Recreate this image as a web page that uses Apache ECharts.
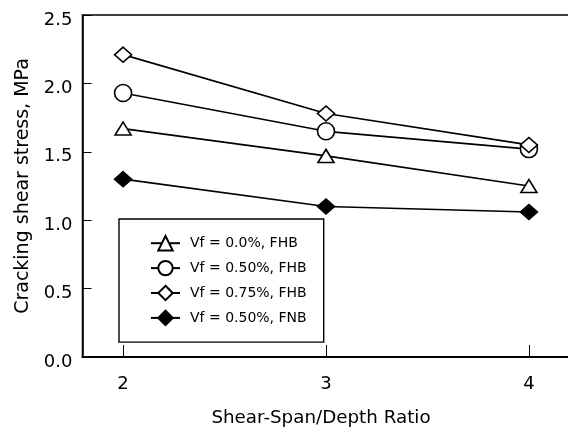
<!DOCTYPE html>
<html>
<head>
<meta charset="utf-8">
<script src="https://cdn.jsdelivr.net/npm/echarts@6/dist/echarts.min.js"></script>
<style>html,body{margin:0;padding:0;background:#fff}#c{width:568px;height:429px}</style>
</head>
<body>
<div id="c"></div>
<script>
var ratios = [2, 3, 4];
var vf000FHB = [1.67, 1.47, 1.25];
var vf050FHB = [1.93, 1.65, 1.52];
var vf075FHB = [2.21, 1.78, 1.55];
var vf050FNB = [1.30, 1.10, 1.06];
var seriesNames = ['Vf = 0.0%, FHB', 'Vf = 0.50%, FHB', 'Vf = 0.75%, FHB', 'Vf = 0.50%, FNB'];
var yTicks = [0, 0.5, 1.0, 1.5, 2.0, 2.5];
var xTicks = [2, 3, 4];

function pairs(v){ return ratios.map(function(x,i){ return [x, v[i]]; }); }
var FONT = 'DejaVu Sans';
var chart = echarts.init(document.getElementById('c'));
function mk(name, data, symbol, size, fill){
  return {
    name: name, type: 'line', data: pairs(data),
    symbol: symbol, symbolSize: size, showSymbol: true,
    lineStyle: {color: '#000', width: 1.7},
    itemStyle: {color: fill, borderColor: '#000', borderWidth: 1.6},
    z: symbol === 'circle' ? 3 : 4,
    animation: false
  };
}
chart.setOption({
  animation: false,
  backgroundColor: '#fff',
  grid: {left: 82.5, top: 15, width: 487, bottom: 72, show: true, borderColor: '#000', borderWidth: 1.5,
    backgroundColor: 'transparent', outerBoundsMode: 'none', containLabel: false},
  legend: {
    orient: 'vertical', left: 119, top: 219,
    data: seriesNames,
    itemWidth: 29, itemHeight: 18, itemGap: 8.5,
    padding: [16, 17, 16, 31],
    borderColor: '#000', borderWidth: 1.4,
    backgroundColor: '#fff',
    textStyle: {fontFamily: FONT, fontSize: 14, color: '#000', padding: [0,0,0,5]}
  },
  xAxis: {
    type: 'value', min: 1.8, max: 4.2,
    name: 'Shear-Span/Depth Ratio', nameLocation: 'middle', nameGap: 52,
    nameTextStyle: {fontFamily: FONT, fontSize: 18.3, color: '#000', padding: [0, 10, 0, 0]},
    axisLine: {lineStyle: {color: '#000', width: 2}},
    axisTick: {inside: true, length: 12, customValues: xTicks, lineStyle: {color: '#000', width: 1}},
    axisLabel: {customValues: xTicks, margin: 18, fontFamily: FONT, fontSize: 18, color: '#000'},
    splitLine: {show: false}
  },
  yAxis: {
    type: 'value', min: 0, max: 2.5, interval: 0.5,
    name: 'Cracking shear stress, MPa', nameLocation: 'middle', nameGap: 49,
    nameTextStyle: {fontFamily: FONT, fontSize: 19, color: '#000'},
    axisLine: {lineStyle: {color: '#000', width: 1.5}},
    axisTick: {inside: true, length: 9, lineStyle: {color: '#000', width: 1}},
    axisLabel: {margin: 10, fontFamily: FONT, fontSize: 18, color: '#000', verticalAlign: 'top', lineHeight: 10,
      formatter: function(v){ return v.toFixed(1); }},
    splitLine: {show: false}
  },
  series: [
    mk(seriesNames[0], vf000FHB, 'triangle', [16, 13], '#fff'),
    mk(seriesNames[1], vf050FHB, 'circle', 17, '#fff'),
    mk(seriesNames[2], vf075FHB, 'diamond', [17, 15], '#fff'),
    mk(seriesNames[3], vf050FNB, 'diamond', [17, 15], '#000')
  ]
});
</script>
</body>
</html>
